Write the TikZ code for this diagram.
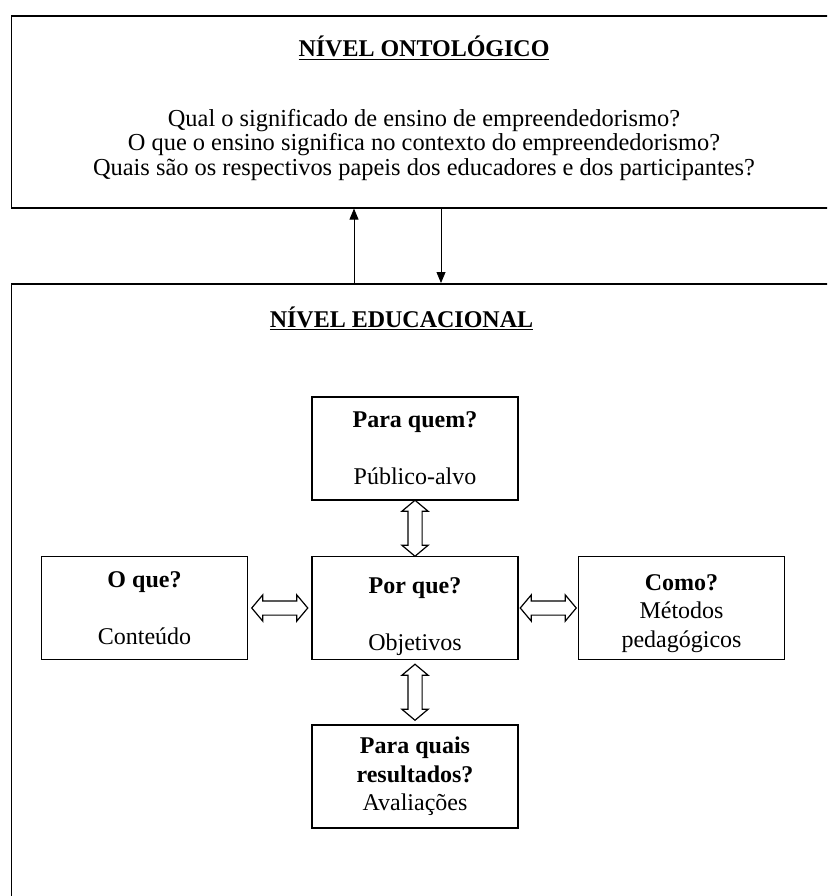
\documentclass[tikz,border=0pt]{standalone}
\usepackage{fontspec}
\setmainfont{Liberation Serif}
\usetikzlibrary{positioning,shapes.arrows,arrows.meta}
\begin{document}
\begin{tikzpicture}[x=1pt,y=1pt,
  layer/.style={draw,line width=1.6pt,anchor=north west,minimum width=850pt},
  box/.style={draw,line width=1.5pt,minimum width=206pt,minimum height=103pt,align=center,inner sep=0pt,font=\fontsize{24}{28.5}\selectfont},
  dbl/.style={double arrow,draw,line width=1.2pt,minimum height=56pt,inner xsep=0pt,inner ysep=6.5pt,double arrow head extend=6pt,double arrow tip angle=100,sloped},
  link/.style={line width=0.8pt,-{Triangle[length=11pt,width=9pt]}},
  heading/.style={anchor=base,font=\fontsize{24}{28}\selectfont\bfseries}]
\path[use as bounding box,clip] (0,0) rectangle (827,-896);
\node[layer,minimum height=192pt] (onto) at (10.5,-15) {};
\node[layer,minimum height=700pt] (educ) at (10.5,-283) {};
\node[heading] (t1) at (424,-57) {\underline{NÍVEL ONTOLÓGICO}};
\node[align=center,font=\fontsize{24.4}{24.5}\selectfont] (qs) at (424,-145) {Qual o significado de ensino de empreendedorismo?\\O que o ensino significa no contexto do empreendedorismo?\\Quais são os respectivos papeis dos educadores e dos participantes?};
\node[heading] (t2) at (401.5,-327) {\underline{NÍVEL EDUCACIONAL}};
\coordinate (up) at (354,0);
\coordinate (down) at (441,0);
\draw[link] (up |- educ.north) -- (up |- onto.south);
\draw[link] (down |- onto.south) -- (down |- educ.north);
\node[box] (porque) at (415,-608) {\\[4.5pt]\textbf{Por que?}\\[28.5pt]Objetivos};
\node[box,above=55pt of porque] (quem) {\textbf{Para quem?}\\[28.5pt]Público-alvo};
\node[box,below=64pt of porque] (quais) {\textbf{Para quais}\\\textbf{resultados?}\\Avaliações};
\node[box,left=63pt of porque] (oque) {\textbf{O que?}\\[28.5pt]Conteúdo};
\node[box,right=59pt of porque] (como) {\\[-1.5pt]\textbf{Como?}\\Métodos\\pedagógicos};
\path (quem) -- node[dbl]{} (porque);
\path (porque) -- node[dbl]{} (quais);
\path (oque) -- node[dbl]{} (porque);
\path (porque) -- node[dbl]{} (como);
\end{tikzpicture}
\end{document}
